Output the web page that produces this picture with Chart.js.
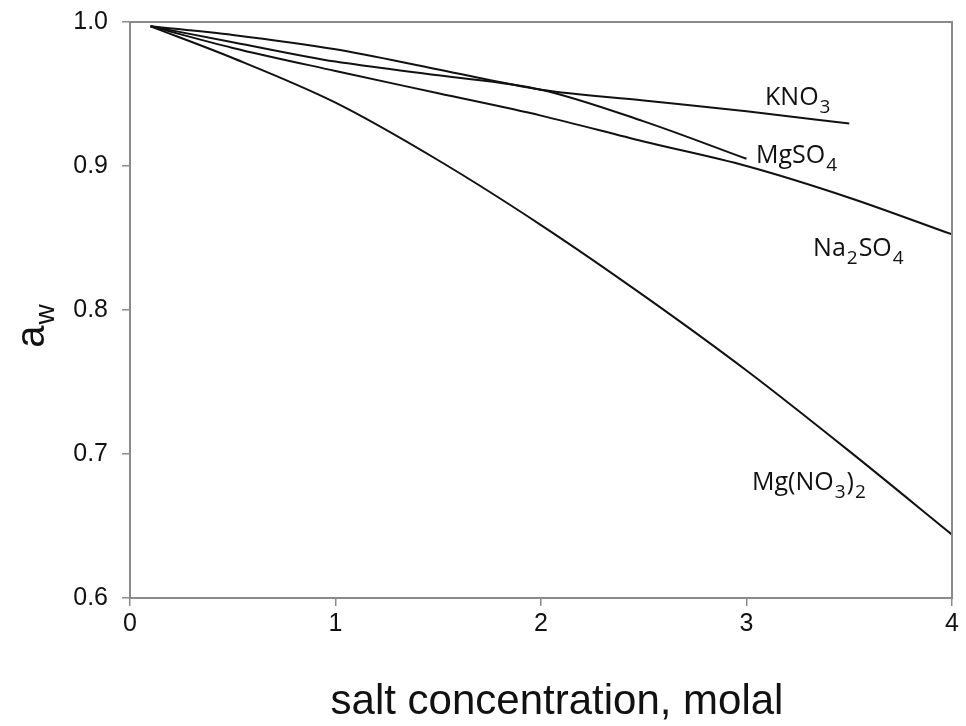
<!DOCTYPE html>
<html>
<head>
<meta charset="utf-8">
<script src="https://cdn.jsdelivr.net/npm/chart.js@4"></script>
<style>
  html, body { margin: 0; padding: 0; background: #ffffff; }
  #wrap { width: 966px; height: 726px; }
</style>
</head>
<body>
<div id="wrap"><canvas id="chart" width="966" height="726"></canvas></div>
<script>
// Water activity of salt solutions vs. molality
const molality   = [0.1, 0.5, 1, 1.5, 2, 2.5, 3, 3.5, 4];
const awKNO3     = [0.997, 0.991, 0.981, 0.967, 0.953, 0.9455, 0.938, 0.9295];
const awMgSO4    = [0.997, 0.986, 0.9725, 0.963, 0.953, 0.931, 0.905];
const awNa2SO4   = [0.997, 0.982, 0.966, 0.9505, 0.935, 0.917, 0.900, 0.878, 0.8525];
const awMgNO32   = [0.997, 0.975, 0.944, 0.904, 0.859, 0.810, 0.758, 0.702, 0.644];
const xTicks     = [0, 1, 2, 3, 4];
const yTicks     = [0.6, 0.7, 0.8, 0.9, 1.0];
const xTitle     = 'salt concentration, molal';

// Curve labels: [text, isSubscript] pieces, anchored in data units
const curveLabels = [
  { parts: [['KNO', false], ['3', true]],                            at: [3.09, 0.9422] },
  { parts: [['MgSO', false], ['4', true]],                           at: [3.046, 0.902] },
  { parts: [['Na', false], ['2', true], ['SO', false], ['4', true]], at: [3.324, 0.8372] },
  { parts: [['Mg(NO', false], ['3', true], [')', false], ['2', true]], at: [3.027, 0.675] }
];

const AXIS_GREY = '#8a8a8a';
const SANS = '"Liberation Sans", Arial, sans-serif';
const TICK_FONT = { family: SANS, size: 25 };

function pairs(xs, ys) {
  return ys.map((y, i) => ({ x: xs[i], y: y }));
}

function series(label, ys) {
  return {
    label: label,
    data: pairs(molality, ys),
    borderColor: '#111111',
    borderWidth: 2,
    pointRadius: 0,
    fill: false,
    cubicInterpolationMode: 'monotone'
  };
}

// Draws text pieces with subscripts starting at (x, baseline)
function drawRich(ctx, parts, x, y, size, family) {
  let cx = x;
  parts.forEach(([txt, sub]) => {
    const s = sub ? Math.round(size * 0.74) : size;
    ctx.font = s + 'px ' + family;
    ctx.fillText(txt, cx, sub ? y + size * 0.3 : y);
    cx += ctx.measureText(txt).width + 1;
  });
}

const framePlugin = {
  id: 'frame',
  afterDraw(chart) {
    const { ctx, chartArea: a } = chart;
    ctx.save();
    ctx.strokeStyle = AXIS_GREY;
    ctx.lineWidth = 2;
    ctx.strokeRect(a.left, a.top, a.right - a.left, a.bottom - a.top);
    ctx.restore();
  }
};

const labelPlugin = {
  id: 'curveLabels',
  afterDatasetsDraw(chart) {
    const { ctx, scales } = chart;
    ctx.save();
    ctx.fillStyle = '#111111';
    ctx.textBaseline = 'alphabetic';
    ctx.textAlign = 'left';
    curveLabels.forEach(l => {
      const px = scales.x.getPixelForValue(l.at[0]);
      const py = scales.y.getPixelForValue(l.at[1]);
      drawRich(ctx, l.parts, px, py, 25, '"Open Sans", "Noto Sans", sans-serif');
    });

    // x-axis title
    ctx.textAlign = 'center';
    ctx.font = '42px ' + SANS;
    ctx.fillText(xTitle, 557, 714);

    // y-axis title a_w, rotated
    ctx.textAlign = 'left';
    ctx.translate(44, 326);
    ctx.rotate(-Math.PI / 2);
    ctx.font = '40px ' + SANS;
    const aw = ctx.measureText('a').width;
    ctx.font = '28px ' + SANS;
    const ww = ctx.measureText('w').width;
    const start = -(aw + ww + 1) / 2;
    ctx.font = '40px ' + SANS;
    ctx.fillText('a', start, 0);
    ctx.font = '28px ' + SANS;
    ctx.fillText('w', start + aw + 1, 10);
    ctx.restore();
  }
};

new Chart(document.getElementById('chart'), {
  type: 'line',
  data: {
    datasets: [
      series('KNO3', awKNO3),
      series('MgSO4', awMgSO4),
      series('Na2SO4', awNa2SO4),
      series('Mg(NO3)2', awMgNO32)
    ]
  },
  options: {
    responsive: false,
    animation: false,
    layout: { autoPadding: false, padding: { left: 0, right: 14, top: 22, bottom: 0 } },
    plugins: { legend: { display: false }, tooltip: { enabled: false } },
    scales: {
      x: {
        type: 'linear',
        min: 0, max: 4,
        afterBuildTicks(scale) { scale.ticks = xTicks.map(v => ({ value: v })); },
        afterFit(scale) { scale.height = 128; scale.paddingLeft = 0; scale.paddingRight = 0; },
        grid: { display: true, drawOnChartArea: false, drawTicks: true, tickLength: 8, color: AXIS_GREY, lineWidth: 1.5 },
        border: { display: true, color: AXIS_GREY, width: 2 },
        ticks: { color: '#111111', font: TICK_FONT, padding: 3, maxRotation: 0, callback: v => String(v) }
      },
      y: {
        type: 'linear',
        min: 0.6, max: 1.0,
        afterBuildTicks(scale) { scale.ticks = yTicks.map(v => ({ value: v })); },
        afterFit(scale) { scale.width = 130; scale.paddingTop = 0; scale.paddingBottom = 0; },
        grid: { display: true, drawOnChartArea: false, drawTicks: true, tickLength: 8, color: AXIS_GREY, lineWidth: 1.5 },
        border: { display: true, color: AXIS_GREY, width: 2 },
        ticks: { color: '#111111', font: TICK_FONT, padding: 14, callback: v => v.toFixed(1) }
      }
    }
  },
  plugins: [framePlugin, labelPlugin]
});
</script>
</body>
</html>
